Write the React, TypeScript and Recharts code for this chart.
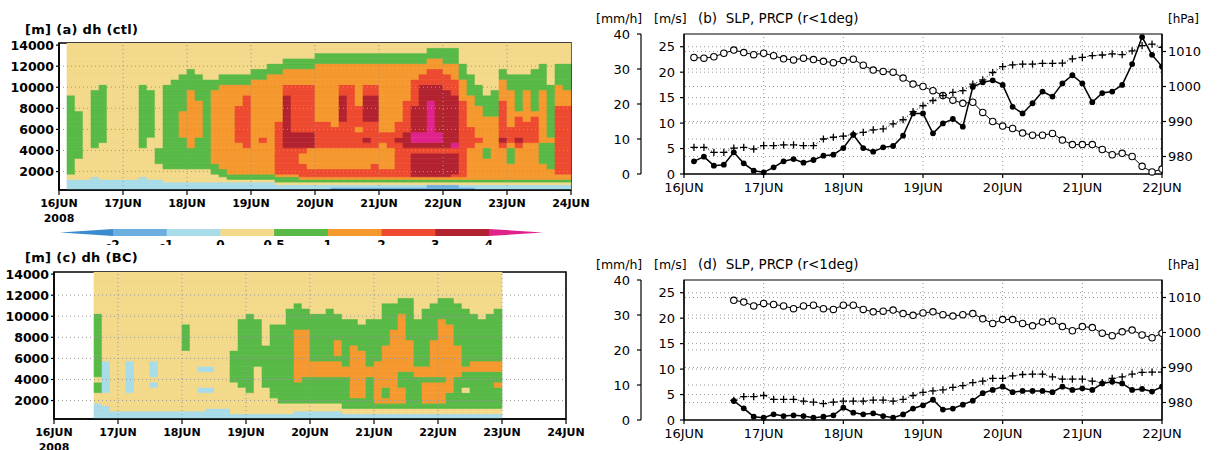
import React from "react";
import {
  BarChart,
  Bar,
  Cell,
  XAxis,
  YAxis,
  ReferenceLine,
  ReferenceArea,
  ComposedChart,
  Line,
} from "recharts";

const SANS = "'DejaVu Sans', 'Noto Sans', sans-serif";

// shading classes of dh (GrADS style palette)
const LEVEL_COLORS: Record<string, string> = {
  D: "#3b8bcf",
  B: "#6daee0",
  b: "#a7dce8",
  y: "#f3d98a",
  g: "#58b947",
  o: "#f5992f",
  r: "#ed4a2f",
  d: "#b2232f",
  m: "#e0238b",
};
const BAR_BOXES = ["B", "b", "y", "g", "o", "r", "d"];
const BAR_LABELS = ["-2", "-1", "0", "0.5", "1", "2", "3", "4"];

const DAY_LABELS = ["16JUN", "17JUN", "18JUN", "19JUN", "20JUN", "21JUN", "22JUN", "23JUN", "24JUN"];
const FIELD_TICKS = [0, 24, 48, 72, 96, 120, 144, 168, 192];
const LINE_TICKS = [0, 24, 48, 72, 96, 120, 144];
const HEIGHT_TICKS = [2000, 4000, 6000, 8000, 10000, 12000, 14000];

// band edges of the height rows, top to bottom [m]
const ROW_EDGES = [
  14250, 13750, 13250, 12750, 12250, 11750, 11250, 10750, 10250, 9750, 9250, 8750, 8250,
  7750, 7250, 6750, 6250, 5750, 5250, 4750, 4250, 3750, 3250, 2750, 2250, 1750, 1500, 1250,
  1000, 750, 500, 0,
];
const NROWS = ROW_EDGES.length - 1;

// one entry per 3-hourly column (16JUN00Z .. 24JUN00Z), run-length coded from top to bottom
const CTL_COLUMNS = [
  ".31", "y10g15y2b4", "y13g9y5b4", "y27b4", "y9g11y6b5", "y8g11y8b4", "y27b4", "y27b4",
  "y27b4", "y27b4", "y8g12y6b5", "y9g9y9b4", "y20g3y4b4", "y8g16y4b3", "y7g17y4b3", "y6g7o5g6y4b3",
  "y5g4o11g4y4b3", "y6g5o7g6y4b3", "y7g17y4b3", "y7g2o14g2y3b3", "y6g2o16g2y2b3", "y6g2o17g2y1b3",
  "y6g2o4r7o6g2y1b3", "y6g2o2r10o5g2y1b3", "y5g2o18g2y1b3", "y5g2o11r1o6g2y1b3", "y4g2o19g2y1b3",
  "y4g2o9r10o1g2y1b2", "y3g2o3r2d10r5o1g2y1b2", "y3g2o3r9d3r5o1g2y1b2", "y3g2o3r9d3r1o2r3o1g1y1b2",
  "y3g2o3r9d3o4r2o1g1y1b2", "y2g2o11r5o4r2o1g1y1b2", "y2g2o11r5o4r2o1g1y1b2",
  "y2g2o12r4o4r2o1g1y1b1B1", "y2g2o4r2d5r5o4r2o1g1y1b1B1", "y2g2o4r12o4r2o1g1y1b1B1",
  "y2g2o8r4o1r3o4r2o1g1y1b1B1", "y2g2o4r2d5r3d1r1o4r2o1g1y1b1B1", "y2g2o4r2d5r5o3r3o1g1y1b1B1",
  "y2g2o13r2o5r2o1g1y1b1B1", "y2g2o13r3o4r2o1g1y1b1B1", "y2g2o11r3d1r7o1g1y1b1B1",
  "y2g2o7r6d3r6o1g1y1b1B1", "y2g2o3r5d5m2d1r1d5o1g1y1b1B1", "y2g2o2r2d9m2d1r1d5o1g1y1b1B1",
  "y1g2o2r3d3m8d1r1d5o1g1y1B2", "y1g2o2r3d9m2d1r1d5o1g1y1B2", "y1g3o2r3d11r1d5o1g1y1B2",
  "y1g3o3r3d9m1r1d4r1o1g1y1B2", "y4g3o4r15o1g1y1b1B1", "y6g4o6r4o7g1y1b1B1", "y8g4o6r1o8g1y1b2",
  "y10g4o6g2o5g1y1b2", "y9g5o13g1y1b2", "y5g2o4r7d1r1o7g1y1b2", "y6g3o7r3o1g3o4g1y1b2",
  "y6g7o1r4d1r1o7g1y1b2", "y6g3o6r4o8g1y1b2", "y5g8o1r5o8g1y1b2", "y4g5o10g4o4g1y1b2",
  "y8g10o1g5o3g1y1b2", "y4g4o4r13o2g1y1b2", "y4g5o3r13o2g1y1b2",
];

const BC_COLUMNS = [
  ".31", ".31", ".31", ".31", ".31", "y8g12y1g2y2b6", "y17b6y3b5", "y28b3", "y28b3", "y17b6y5b3",
  "y28b3", "y28b3", "y17b3y1b1y6b3", "y28b3", "y28b3", "y28b3", "y10g5y13b3", "y28b3",
  "y18b1y3b1y5b3", "y18b1y3b1y4b4", "y27b4", "y27b4", "y15g6y8b2", "y9g13y7b2", "y8g15y6b2",
  "y9g9y11b2", "y14g8y7b2", "y10g14y5b2", "y10g15y4b2", "y7g18y4b2", "y6g5o10g4y3b3",
  "y7g4o9g5y3b3", "y8g9o3g5y3b3", "y8g9o3g5y3b3", "y7g10o3g5y3b3", "y8g5o3g1o3g5y3b3",
  "y9g9o2g7y2b2", "y9g5o10g3y2b2", "y10g5o9g3y2b2", "y9g9o2g7y2b2", "y9g8o8g2y2b2",
  "y6g8o8g2o1g2y2b2", "y6g5o14g2y2b2", "y5g3o11g3o3g2y2b2", "y5g8o6g8y2b2", "y9g9o2g7y2b2",
  "y7g11o2g1o4g2y2b2", "y6g7o7g1o4g2y2b2", "y5g4o11g1o4g2y2b2", "y5g5o13g4y2b2", "y6g8o6g7y2b2",
  "y7g11o1g3y1g4y2b2", "y8g9o2g8y2b2", "y9g8o2g8y2b2", "y8g9o2g8y2b2", "y7g10o2g2o1g5y2b2",
  ".31", ".31", ".31", ".31", ".31", ".31", ".31", ".31",
];

// time series, 3-hourly
const STEP = 3;
const B_START = 3;
const SLP_B = [
  1008.3, 1008.1, 1008.5, 1009.5, 1010.4, 1009.7, 1009.1,
  1009.5, 1008.8, 1007.9, 1007.6, 1008.1, 1007.7, 1007.2, 1006.8,
  1007.4, 1007.8, 1006.1, 1004.7, 1004.3, 1004.1, 1002.4, 1000.7,
  1000.0, 998.8, 997.4, 996.1, 995.2, 995.5, 992.6, 990.0,
  988.7, 988.0, 986.7, 986.1, 986.1, 986.6, 984.7, 983.4,
  983.4, 983.4, 982.0, 980.5, 980.9, 980.0, 977.2, 975.6,
  976.4,
];
const WIND_B = [
  7.6, 7.6, 6.2, 6.2, 7.4, 7.6, 7.1,
  8.1, 8.1, 8.3, 8.3, 8.1, 8.1, 10.0, 10.5,
  10.8, 11.4, 11.9, 12.6, 12.9, 14.3, 15.5, 17.8,
  19.5, 21.0, 22.4, 23.3, 23.8, 25.7, 26.9, 29.0,
  30.7, 31.2, 31.4, 31.4, 31.6, 31.6, 31.7, 32.9,
  33.3, 33.8, 34.0, 34.3, 34.1, 35.2, 36.7, 37.1,
  36.2,
];
const PRCP_B = [
  2.49, 3.4, 1.64, 1.83, 4.25, 2.09, 0.65,
  0.33, 1.31, 2.49, 2.94, 2.22, 2.75, 3.6, 3.8,
  5.1, 7.72, 5.1, 4.38, 5.23, 5.5, 7.52, 11.9,
  11.9, 7.98, 9.94, 10.8, 9.29, 17.1, 18.0, 18.4,
  17.5, 13.2, 11.9, 13.9, 16.2, 15.2, 17.8, 19.4,
  17.8, 14.1, 15.9, 16.2, 17.5, 21.6, 26.9, 23.4,
  21.1,
];

const D_START = 15;
const SLP_D = [
  1009.2, 1008.7, 1007.6,
  1008.3, 1008.0, 1007.6, 1006.8, 1007.6, 1007.8, 1006.8, 1006.6,
  1007.8, 1007.8, 1006.6, 1005.9, 1006.1, 1006.4, 1005.4, 1004.9,
  1005.6, 1005.9, 1005.1, 1004.7, 1005.1, 1005.4, 1003.9, 1002.6,
  1003.7, 1003.7, 1002.6, 1001.9, 1003.0, 1003.3, 1001.7, 1000.5,
  1001.7, 1001.4, 999.8, 999.1, 1000.2, 1000.7, 999.3, 998.5,
  999.8,
];
const WIND_D = [
  5.6, 6.7, 6.7,
  7.0, 5.9, 5.9, 5.9, 5.4, 5.1, 4.7, 5.1,
  5.4, 5.4, 5.4, 5.7, 5.7, 5.4, 5.9, 7.0,
  7.9, 8.3, 8.6, 9.3, 9.8, 10.7, 11.1, 11.9,
  11.9, 12.6, 13.0, 13.1, 13.1, 12.3, 11.7, 11.7,
  11.7, 11.1, 10.7, 11.9, 12.3, 13.1, 13.6, 13.7,
  13.7,
];
const PRCP_D = [
  3.73, 2.29, 0.65,
  0.46, 1.11, 0.78, 0.92, 0.78, 0.46, 0.65, 0.92,
  2.42, 1.44, 1.11, 1.31, 0.78, 0.46, 1.09, 2.25,
  2.89, 3.98, 2.05, 2.25, 3.02, 3.79, 5.26, 5.91,
  6.55, 5.46, 5.71, 5.71, 5.71, 5.46, 6.55, 5.91,
  6.23, 5.91, 7.19, 7.51, 7.19, 5.91, 6.1, 5.59,
  6.55,
];

function decodeColumn(spec: string): string[] {
  const out: string[] = [];
  spec.replace(/([.a-zA-Z])(\d+)/g, (_m, c: string, n: string) => {
    for (let i = 0; i < Number(n); i++) out.push(c);
    return "";
  });
  while (out.length < NROWS) out.push(out[out.length - 1] ?? ".");
  return out.slice(0, NROWS);
}

function buildField(cols: string[]) {
  const grid = cols.map(decodeColumn);
  const data = grid.map((_c, j) => {
    const d: Record<string, number> = { j, h: j * 3 + 1.5 };
    for (let r = 0; r < NROWS; r++) d["r" + r] = ROW_EDGES[r] - ROW_EDGES[r + 1];
    return d;
  });
  return { grid, data };
}

const dayLabel = (v: number) => DAY_LABELS[Math.round(v / 24)] ?? "";

function FieldDayTick(props: any) {
  const { x, y, payload } = props;
  return (
    <g>
      <text x={x} y={y + 10} textAnchor="middle" fontFamily={SANS} fontWeight="bold" fontSize={11} fill="#000">
        {dayLabel(payload.value)}
      </text>
      {payload.value === 0 && (
        <text x={x} y={y + 25} textAnchor="middle" fontFamily={SANS} fontWeight="bold" fontSize={11} fill="#000">
          2008
        </text>
      )}
    </g>
  );
}

function LineDayTick(props: any) {
  const { x, y, payload } = props;
  return (
    <text x={x} y={y + 12} textAnchor="middle" fontFamily={SANS} fontSize={13} fill="#000">
      {dayLabel(payload.value)}
    </text>
  );
}

const gridLine = { stroke: "#9a9a9a", strokeDasharray: "1 3", strokeWidth: 1 };

function FieldPanel(props: {
  top: number;
  height: number;
  plotLeft: number;
  plotTop: number;
  cols: string[];
  title: string;
  titleTop: number;
}) {
  const { top, height, plotLeft, plotTop, cols, title, titleTop } = props;
  const { grid, data } = buildField(cols);
  const W = 600;
  const plotW = 512;
  const plotH = 147;
  const axisH = 30;
  const rowsBottomUp = Array.from({ length: NROWS }, (_v, i) => NROWS - 1 - i);

  return (
    <div style={{ position: "absolute", left: 0, top, width: W, height }}>
      <div
        style={{
          position: "absolute",
          left: 25,
          top: titleTop,
          fontFamily: SANS,
          fontWeight: "bold",
          fontSize: 13,
          letterSpacing: 0.3,
          lineHeight: "13px",
          whiteSpace: "pre",
        }}
      >
        {title}
      </div>
      <BarChart
        width={W}
        height={height}
        data={data}
        barCategoryGap={0}
        barGap={0}
        margin={{
          top: plotTop,
          left: plotLeft - 54,
          right: W - plotLeft - plotW,
          bottom: height - plotTop - plotH - axisH,
        }}
      >
        <XAxis xAxisId="cat" dataKey="j" type="category" orientation="top" height={0} hide />
        <XAxis
          xAxisId="t"
          dataKey="h"
          type="number"
          domain={[0, 192]}
          ticks={FIELD_TICKS}
          interval={0}
          allowDataOverflow
          height={axisH}
          tickSize={5}
          tick={<FieldDayTick />}
          axisLine={{ stroke: "#000", strokeWidth: 1.5 }}
          tickLine={{ stroke: "#000", strokeWidth: 1.2 }}
        />
        <YAxis
          type="number"
          domain={[250, 14200]}
          ticks={HEIGHT_TICKS}
          interval={0}
          allowDataOverflow
          width={54}
          tickSize={3}
          tickMargin={2}
          tick={{ fill: "#000", fontSize: 12.5, fontWeight: "bold", fontFamily: SANS }}
          axisLine={{ stroke: "#000", strokeWidth: 1.5 }}
          tickLine={{ stroke: "#000", strokeWidth: 1.2 }}
        />
        {rowsBottomUp.map((r) => (
          <Bar key={r} dataKey={"r" + r} stackId="z" xAxisId="cat" isAnimationActive={false}>
            {grid.map((col, j) => {
              const c = LEVEL_COLORS[col[r]];
              return <Cell key={j} fill={c ?? "none"} stroke={c ?? "none"} strokeWidth={0.6} />;
            })}
          </Bar>
        ))}
        {FIELD_TICKS.slice(1, -1).map((t) => (
          <ReferenceLine key={"v" + t} xAxisId="t" x={t} {...gridLine} />
        ))}
        {HEIGHT_TICKS.slice(0, -1).map((t) => (
          <ReferenceLine key={"h" + t} xAxisId="t" y={t} {...gridLine} />
        ))}
        <ReferenceArea
          xAxisId="t"
          x1={0}
          x2={192}
          y1={250}
          y2={14200}
          fill="none"
          stroke="#000"
          strokeWidth={1.6}
          ifOverflow="visible"
        />
      </BarChart>
    </div>
  );
}

function ColorBar() {
  const x0 = 113;
  const w = 53.7;
  const y0 = 3;
  const h = 7;
  return (
    <svg width={600} height={19} style={{ position: "absolute", left: 0, top: 226 }}>
      <polygon points={`60,${y0 + h / 2} ${x0},${y0} ${x0},${y0 + h}`} fill={LEVEL_COLORS.D} />
      {BAR_BOXES.map((c, k) => (
        <rect key={c} x={x0 + k * w} y={y0} width={w + 0.4} height={h} fill={LEVEL_COLORS[c]} />
      ))}
      <polygon
        points={`${x0 + 7 * w},${y0} ${x0 + 7 * w},${y0 + h} 543,${y0 + h / 2}`}
        fill={LEVEL_COLORS.m}
      />
      {BAR_LABELS.map((t, k) => (
        <text key={t} x={x0 + k * w} y={23} textAnchor="middle" fontFamily={SANS} fontWeight="bold" fontSize={12}>
          {t}
        </text>
      ))}
    </svg>
  );
}

const OpenDot = (p: any) =>
  p.cx == null ? null : (
    <circle key={p.key} cx={p.cx} cy={p.cy} r={3.2} fill="#fff" stroke="#000" strokeWidth={1.1} />
  );
const PlusDot = (p: any) =>
  p.cx == null ? null : (
    <path
      key={p.key}
      d={`M${p.cx - 3.6},${p.cy}h7.2M${p.cx},${p.cy - 3.6}v7.2`}
      stroke="#000"
      strokeWidth={1.3}
      fill="none"
    />
  );
const FilledDot = (p: any) =>
  p.cx == null ? null : <circle key={p.key} cx={p.cx} cy={p.cy} r={2.9} fill="#000" />;

const unitStyle = (left: number, size: number): React.CSSProperties => ({
  position: "absolute",
  left,
  top: 19 - size / 2,
  fontFamily: SANS,
  fontSize: size,
  lineHeight: `${size}px`,
  whiteSpace: "pre",
});

function LinePanel(props: { top: number; tag: string; start: number; slp: number[]; wind: number[]; prcp: number[] }) {
  const { top, tag, start, slp, wind, prcp } = props;
  const data = slp.map((v, i) => ({ h: start + STEP * i, slp: v, wind: wind[i], prcp: prcp[i] }));
  const axisText = { fill: "#000", fontSize: 13, fontFamily: SANS };
  const axisLine = { stroke: "#000", strokeWidth: 1.2 };
  return (
    <div style={{ position: "absolute", left: 590, top, width: 628, height: 200 }}>
      <div style={unitStyle(6, 12.5)}>[mm/h]</div>
      <div style={unitStyle(64, 12.5)}>[m/s]</div>
      <div style={unitStyle(108, 13.5)}>{`(${tag})  SLP, PRCP (r<1deg)`}</div>
      <div style={unitStyle(578, 12)}>[hPa]</div>
      <ComposedChart width={628} height={200} data={data} margin={{ top: 34, right: 6, left: 10, bottom: 4 }}>
        <XAxis
          dataKey="h"
          type="number"
          domain={[0, 144]}
          ticks={LINE_TICKS}
          interval={0}
          allowDataOverflow
          height={22}
          tickSize={4}
          tick={<LineDayTick />}
          axisLine={axisLine}
          tickLine={axisLine}
        />
        <YAxis
          yAxisId="mps"
          domain={[0, 40]}
          ticks={[0, 10, 20, 30, 40]}
          interval={0}
          width={41}
          tickSize={4}
          tickMargin={7}
          tick={axisText}
          axisLine={axisLine}
          tickLine={axisLine}
        />
        <YAxis
          yAxisId="mmh"
          domain={[0, 27.5]}
          ticks={[0, 5, 10, 15, 20, 25]}
          interval={0}
          width={43}
          tickSize={4}
          tickMargin={5}
          tick={axisText}
          axisLine={axisLine}
          tickLine={axisLine}
        />
        <YAxis
          yAxisId="hpa"
          orientation="right"
          domain={[975, 1015]}
          ticks={[980, 990, 1000, 1010]}
          interval={0}
          width={50}
          tickSize={4}
          tickMargin={2}
          tick={axisText}
          axisLine={axisLine}
          tickLine={axisLine}
        />
        {LINE_TICKS.slice(1, -1).map((t) => (
          <ReferenceLine key={"v" + t} yAxisId="mps" x={t} {...gridLine} />
        ))}
        {[10, 20, 30].map((t) => (
          <ReferenceLine key={"a" + t} yAxisId="mps" y={t} {...gridLine} />
        ))}
        {[5, 10, 15, 20, 25].map((t) => (
          <ReferenceLine key={"b" + t} yAxisId="mmh" y={t} {...gridLine} />
        ))}
        {[980, 990, 1000, 1010].map((t) => (
          <ReferenceLine key={"c" + t} yAxisId="hpa" y={t} {...gridLine} />
        ))}
        <ReferenceArea yAxisId="mps" x1={0} x2={144} y1={0} y2={40} fill="none" stroke="#000" strokeWidth={1.2} />
        <Line
          yAxisId="hpa"
          dataKey="slp"
          stroke="#000"
          strokeWidth={1}
          dot={OpenDot}
          isAnimationActive={false}
        />
        <Line
          yAxisId="mps"
          dataKey="wind"
          stroke="#000"
          strokeWidth={1}
          strokeDasharray="1 2"
          dot={PlusDot}
          isAnimationActive={false}
        />
        <Line
          yAxisId="mmh"
          dataKey="prcp"
          stroke="#000"
          strokeWidth={1.5}
          dot={FilledDot}
          isAnimationActive={false}
        />
      </ComposedChart>
    </div>
  );
}

export default function App() {
  return (
    <div style={{ position: "relative", width: 1218, height: 450, background: "#fff", overflow: "hidden" }}>
      <style>{"body{margin:0}"}</style>
      <FieldPanel top={0} height={226} plotLeft={59} plotTop={43} cols={CTL_COLUMNS} title="[m] (a) dh (ctl)" titleTop={23} />
      <ColorBar />
      <FieldPanel top={250} height={200} plotLeft={54} plotTop={22} cols={BC_COLUMNS} title="[m] (c) dh (BC)" titleTop={1} />
      <LinePanel top={0} tag="b" start={B_START} slp={SLP_B} wind={WIND_B} prcp={PRCP_B} />
      <LinePanel top={246} tag="d" start={D_START} slp={SLP_D} wind={WIND_D} prcp={PRCP_D} />
    </div>
  );
}
